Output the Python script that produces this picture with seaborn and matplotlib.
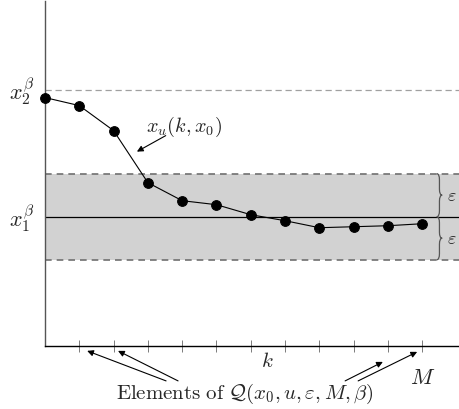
import numpy as np
import pandas as pd
import seaborn as sns
import matplotlib.pyplot as plt
from matplotlib.path import Path
from matplotlib.patches import PathPatch

# trajectory x_u(k, x0), k = 0..11 (arbitrary vertical units)
k_vals = list(range(12))
x_vals = [248, 240, 215, 163, 145, 141, 131, 125, 118, 119, 120, 122]
x1_beta = 129
x2_beta = 256
eps = 43
tick_ks = list(range(1, 12))

sns.set_style("white")
plt.rcParams['mathtext.fontset'] = 'cm'
plt.rcParams['font.family'] = ['DejaVu Serif']

fig = plt.figure(figsize=(4.59, 4.10), dpi=100)
ax = fig.add_axes([0.098, 0.154, 0.902, 0.84])

df = pd.DataFrame({'k': k_vals, 'x': x_vals})

# band of width eps around x1
ax.axhspan(x1_beta - eps, x1_beta + eps, color='#d2d2d2', lw=0, zorder=0)
ax.axhline(x1_beta + eps, color='#707070', ls=(0, (4, 3)), lw=1.2, zorder=1)
ax.axhline(x1_beta - eps, color='#707070', ls=(0, (4, 3)), lw=1.2, zorder=1)
ax.axhline(x1_beta, color='black', lw=0.9, zorder=1)
ax.axhline(x2_beta, color='#a0a0a0', ls=(0, (5, 3)), lw=0.9, zorder=1)

sns.lineplot(data=df, x='k', y='x', ax=ax, color='black', lw=0.8,
             marker='o', markersize=7, markeredgecolor='black', clip_on=False, zorder=3)

ax.set_xlim(0, 12.07)
ax.set_ylim(0, 344)
ax.set_xticks(tick_ks)
ax.set_xticklabels([])
ax.set_yticks([])
ax.tick_params(axis='x', direction='inout', length=8, width=0.6, color='#666666', bottom=True)
ax.set_xlabel('')
ax.set_ylabel('')
for s in ['top', 'right']:
    ax.spines[s].set_visible(False)
ax.spines['left'].set_color('#555555')
ax.spines['bottom'].set_color('black')
ax.spines['left'].set_linewidth(1.0)
ax.spines['bottom'].set_linewidth(1.0)

# y labels
ax.text(-0.3, x2_beta, r'$x_2^\beta$', fontsize=16, ha='right', va='center')
ax.text(-0.3, x1_beta, r'$x_1^\beta$', fontsize=16, ha='right', va='center')

# curly braces on the right
def brace(y0, y1, x, w):
    ym = (y0 + y1) / 2
    verts = [(x, y0), (x + w, y0), (x + w, y0 + 6), (x + w, ym - 6),
             (x + w, ym), (x + 2 * w, ym),
             (x + w, ym), (x + w, ym + 6), (x + w, y1 - 6),
             (x + w, y1), (x, y1)]
    codes = [Path.MOVETO, Path.CURVE3, Path.CURVE3, Path.LINETO,
             Path.CURVE3, Path.CURVE3,
             Path.CURVE3, Path.CURVE3, Path.LINETO,
             Path.CURVE3, Path.CURVE3]
    ax.add_patch(PathPatch(Path(verts, codes), fc='none', ec='#555555', lw=0.9, clip_on=False))

brace(x1_beta, x1_beta + eps, 11.42, 0.08)
brace(x1_beta - eps, x1_beta, 11.42, 0.08)
ax.text(11.87, x1_beta + eps / 2, r'$\varepsilon$', fontsize=13, ha='center', va='center')
ax.text(11.87, x1_beta - eps / 2, r'$\varepsilon$', fontsize=13, ha='center', va='center')

# trajectory label
ax.text(2.94, 220, r'$x_u(k,x_0)$', fontsize=14.5, ha='left', va='center')
ax.annotate('', xy=(2.68, 194), xytext=(3.52, 210),
            arrowprops=dict(arrowstyle='-|>', color='black', lw=0.8,
                            shrinkA=0, shrinkB=0, mutation_scale=9))

ax.text(6.47, -15, r'$k$', fontsize=15, ha='center', va='center', clip_on=False)
ax.text(11.0, -31, r'$M$', fontsize=16, ha='center', va='center', clip_on=False)

fig.text(0.534, 0.04, r'$\mathrm{Elements\ of}\ \mathcal{Q}(x_0,u,\varepsilon,M,\beta)$',
         fontsize=15, ha='center', va='center')

# arrows to elements of Q
starts = [(3.53, -35), (3.88, -35), (8.75, -35), (9.13, -35)]
ends = [(1.23, -5), (2.13, -5), (9.85, -16), (10.85, -6)]
for st, en in zip(starts, ends):
    ax.annotate('', xy=en, xytext=st, annotation_clip=False,
                arrowprops=dict(arrowstyle='-|>', color='black', lw=0.8,
                                shrinkA=0, shrinkB=0, mutation_scale=9))

fig.savefig('out.png', dpi=100)
